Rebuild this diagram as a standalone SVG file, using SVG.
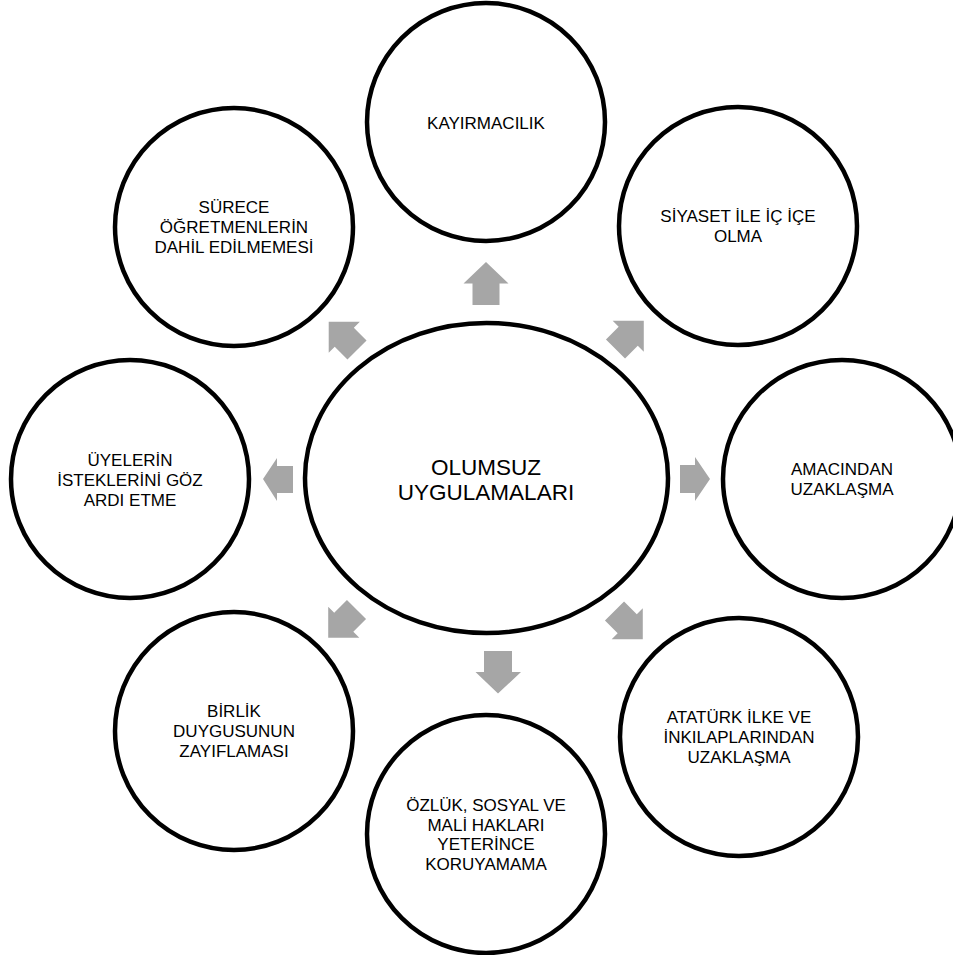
<svg xmlns="http://www.w3.org/2000/svg" width="953" height="955" viewBox="0 0 953 955">
  <defs>
    <style>
      .node { fill: #ffffff; stroke: #000000; stroke-width: 4.5; }
      .lbl { font-family: "Liberation Sans", Arial, sans-serif; font-size: 17px; fill: #000000; text-anchor: middle; }
      .main { font-family: "Liberation Sans", Arial, sans-serif; font-size: 22.5px; fill: #000000; text-anchor: middle; }
      .arrow { fill: #A6A6A6; stroke: none; }
    </style>
    <polygon id="diagArrow" points="0,-13.5 18,-13.5 18,-22 40,0 18,22 18,13.5 0,13.5"/>
  </defs>
  <rect width="953" height="955" fill="#ffffff"/>

  <g id="connectors">
    <polygon class="arrow" points="486,262 508.5,283.5 499.5,283.5 499.5,305 472.5,305 472.5,283.5 463.5,283.5"/>
    <use href="#diagArrow" class="arrow" transform="translate(615.5,349) rotate(-45)"/>
    <polygon class="arrow" points="680,465 695,465 695,457 710,479 695,501 695,493 680,493"/>
    <use href="#diagArrow" class="arrow" transform="translate(614.5,611) rotate(45)"/>
    <polygon class="arrow" points="484,651 512,651 512,672 521,672 498,693.5 475.5,672 484,672"/>
    <use href="#diagArrow" class="arrow" transform="translate(356.5,609.5) rotate(135)"/>
    <polygon class="arrow" points="293,466 277,466 277,458 263,479 277,501 277,493 293,493"/>
    <use href="#diagArrow" class="arrow" transform="translate(357,350) rotate(-135)"/>
  </g>

  <g id="center">
    <ellipse class="node" cx="486.5" cy="478" rx="181.5" ry="155"/>
    <text class="main" x="486" y="475">OLUMSUZ</text>
    <text class="main" x="486" y="500">UYGULAMALARI</text>
  </g>

  <g id="n-kayirmacilik">
    <circle class="node" cx="486" cy="122" r="119"/>
    <text class="lbl" x="486" y="129">KAYIRMACILIK</text>
  </g>

  <g id="n-siyaset">
    <circle class="node" cx="738" cy="226" r="119"/>
    <text class="lbl" x="738" y="222">SİYASET İLE İÇ İÇE</text>
    <text class="lbl" x="738" y="242">OLMA</text>
  </g>

  <g id="n-amacindan">
    <circle class="node" cx="842" cy="479" r="119"/>
    <text class="lbl" x="842" y="475">AMACINDAN</text>
    <text class="lbl" x="842" y="495">UZAKLAŞMA</text>
  </g>

  <g id="n-ataturk">
    <circle class="node" cx="739" cy="737" r="119"/>
    <text class="lbl" x="739" y="723">ATATÜRK İLKE VE</text>
    <text class="lbl" x="739" y="743">İNKILAPLARINDAN</text>
    <text class="lbl" x="739" y="763">UZAKLAŞMA</text>
  </g>

  <g id="n-ozluk">
    <circle class="node" cx="486" cy="834" r="119"/>
    <text class="lbl" x="486" y="811">ÖZLÜK, SOSYAL VE</text>
    <text class="lbl" x="486" y="830.5">MALİ HAKLARI</text>
    <text class="lbl" x="486" y="850">YETERİNCE</text>
    <text class="lbl" x="486" y="869.5">KORUYAMAMA</text>
  </g>

  <g id="n-birlik">
    <circle class="node" cx="234" cy="731" r="119"/>
    <text class="lbl" x="234" y="717">BİRLİK</text>
    <text class="lbl" x="234" y="737">DUYGUSUNUN</text>
    <text class="lbl" x="234" y="757">ZAYIFLAMASI</text>
  </g>

  <g id="n-uyelerin">
    <circle class="node" cx="130" cy="479" r="119"/>
    <text class="lbl" x="130" y="466">ÜYELERİN</text>
    <text class="lbl" x="130" y="486">İSTEKLERİNİ GÖZ</text>
    <text class="lbl" x="130" y="506">ARDI ETME</text>
  </g>

  <g id="n-surece">
    <circle class="node" cx="234" cy="227" r="119"/>
    <text class="lbl" x="234" y="213">SÜRECE</text>
    <text class="lbl" x="234" y="233">ÖĞRETMENLERİN</text>
    <text class="lbl" x="234" y="253">DAHİL EDİLMEMESİ</text>
  </g>
</svg>
